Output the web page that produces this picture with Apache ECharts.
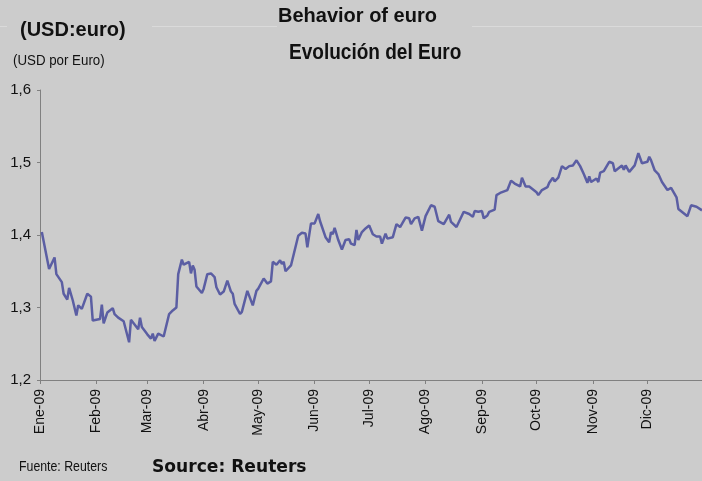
<!DOCTYPE html>
<html><head><meta charset="utf-8">
<script src="https://cdn.jsdelivr.net/npm/echarts@6/dist/echarts.min.js"></script>
<style>html,body{margin:0;padding:0;background:#cccccc}#c{width:702px;height:481px}</style>
</head><body><div id="c"></div>
<script>
// Month labels and their start (days since 1 Jan 2009)
const monthLabels = ['Ene-09','Feb-09','Mar-09','Abr-09','May-09','Jun-09','Jul-09','Ago-09','Sep-09','Oct-09','Nov-09','Dic-09'];
const monthStartDays = [0,31,59,90,120,151,181,212,243,273,304,334];
const yTickLabels = ['1,2','1,3','1,4','1,5','1,6'];
// Observation dates as days since 1 Jan 2009
const days = [1,5,8,9,12,13,15,16,18,20,21,23,26,28,29,33,34,35,37,40,41,43,46,49,50,54,55,56,57,59,61,62,63,65,68,71,73,75,76,78,79,82,83,84,85,86,89,90,91,92,94,96,97,98,99,101,103,105,106,107,110,111,114,117,119,120,123,125,127,128,130,132,133,134,135,138,142,144,146,147,149,151,153,154,155,157,159,160,161,162,164,166,168,170,171,173,174,175,177,179,180,181,183,185,187,188,190,191,194,196,198,201,203,204,206,208,210,211,212,215,217,219,222,225,226,229,233,236,238,239,241,243,244,246,247,250,251,253,254,257,259,261,264,265,267,269,273,274,276,279,280,281,282,283,285,287,289,291,293,295,297,299,301,302,303,306,307,308,310,313,315,316,320,321,322,324,327,329,331,334,335,336,338,340,342,343,345,347,350,351,356,358,361,364];
// USD per euro
const usdPerEuro = [1.404,1.353,1.369,1.346,1.335,1.319,1.311,1.327,1.310,1.289,1.303,1.298,1.319,1.315,1.282,1.284,1.304,1.278,1.293,1.299,1.291,1.286,1.281,1.252,1.283,1.270,1.286,1.273,1.275,1.263,1.257,1.264,1.254,1.264,1.260,1.291,1.296,1.300,1.346,1.366,1.359,1.363,1.347,1.358,1.352,1.329,1.320,1.326,1.327,1.346,1.347,1.342,1.328,1.329,1.318,1.322,1.337,1.322,1.319,1.305,1.291,1.294,1.323,1.303,1.323,1.326,1.340,1.333,1.336,1.363,1.359,1.365,1.360,1.363,1.350,1.358,1.399,1.403,1.402,1.383,1.416,1.416,1.429,1.419,1.418,1.397,1.390,1.404,1.401,1.410,1.393,1.380,1.393,1.394,1.388,1.386,1.407,1.393,1.404,1.409,1.407,1.413,1.401,1.398,1.398,1.388,1.402,1.395,1.397,1.415,1.411,1.424,1.423,1.415,1.423,1.425,1.406,1.406,1.426,1.441,1.439,1.419,1.415,1.428,1.418,1.411,1.432,1.429,1.425,1.433,1.432,1.433,1.423,1.427,1.432,1.435,1.455,1.458,1.457,1.462,1.475,1.471,1.467,1.479,1.467,1.467,1.459,1.455,1.462,1.466,1.472,1.471,1.479,1.474,1.479,1.495,1.491,1.495,1.496,1.503,1.495,1.484,1.472,1.481,1.473,1.478,1.473,1.486,1.488,1.501,1.499,1.488,1.496,1.490,1.496,1.487,1.496,1.513,1.499,1.501,1.508,1.503,1.489,1.484,1.473,1.472,1.462,1.465,1.452,1.436,1.426,1.441,1.439,1.434];

const n = Math.min(days.length, usdPerEuro.length);
const seriesData = [];
for (let i = 0; i < n; i++) seriesData.push([days[i], usdPerEuro[i]]);

const chart = echarts.init(document.getElementById('c'), null, {renderer: 'canvas'});
function txt(text, x, y, size, weight, family, align, sx) {
  return {
    type: 'text', x: x, y: y, scaleX: sx || 1, z: 10,
    style: {
      text: text, fontSize: size, fontWeight: weight, fontFamily: family, fill: '#111',
      align: align, verticalAlign: 'middle', textAlign: align, textVerticalAlign: 'middle'
    }
  };
}
chart.setOption({
  backgroundColor: '#cccccc',
  animation: false,
  grid: {left: 40, right: 0, top: 90, bottom: 101, containLabel: false},
  xAxis: {
    type: 'value', min: 0, max: 364,
    axisLine: {show: true, lineStyle: {color: '#808080', width: 1}},
    axisTick: {show: true, length: 4, lineStyle: {color: '#808080'}, customValues: monthStartDays},
    axisLabel: {
      customValues: monthStartDays, rotate: 90, margin: 9,
      fontSize: 14, color: '#111', fontFamily: 'Liberation Sans, Arial, sans-serif',
      formatter: function (v) { const i = monthStartDays.indexOf(Math.round(v)); return i >= 0 ? monthLabels[i] : ''; }
    },
    splitLine: {show: false}
  },
  yAxis: {
    type: 'value', min: 1.2, max: 1.6, interval: 0.1,
    axisLine: {show: true, lineStyle: {color: '#808080', width: 1}},
    axisTick: {show: true, length: 3, lineStyle: {color: '#808080'}},
    axisLabel: {
      margin: 9, fontSize: 15, color: '#111', fontFamily: 'Liberation Sans, Arial, sans-serif',
      formatter: function (v) { return yTickLabels[Math.round((v - 1.2) * 10)]; }
    },
    splitLine: {show: false}
  },
  series: [{
    type: 'line', data: seriesData, showSymbol: false, symbol: 'none',
    lineStyle: {color: '#5b5ea3', width: 2.5}, clip: true
  }],
  graphic: [
    {type: 'line', shape: {x1: 0, y1: 26.5, x2: 7, y2: 26.5}, style: {stroke: '#dadada', lineWidth: 1}},
    {type: 'line', shape: {x1: 152, y1: 26.5, x2: 277, y2: 26.5}, style: {stroke: '#dadada', lineWidth: 1}},
    {type: 'line', shape: {x1: 472, y1: 26.5, x2: 702, y2: 26.5}, style: {stroke: '#dadada', lineWidth: 1}},
    txt('(USD:euro)', 20, 30, 20, 'bold', 'Liberation Sans, Arial, sans-serif', 'left'),
    txt('(USD por Euro)', 13, 61, 14, 'normal', 'Liberation Sans, Arial, sans-serif', 'left', 0.95),
    txt('Behavior of euro', 278, 16, 20, 'bold', 'Liberation Sans, Arial, sans-serif', 'left'),
    txt('Evolución del Euro', 289, 53, 22, 'bold', 'Liberation Sans, Arial, sans-serif', 'left', 0.865),
    txt('Fuente: Reuters', 19, 467, 14, 'normal', 'Liberation Sans, Arial, sans-serif', 'left', 0.88),
    txt('Source: Reuters', 152, 467, 18, 'bold', 'DejaVu Sans, sans-serif', 'left', 0.95)
  ]
});
</script>
</body></html>
